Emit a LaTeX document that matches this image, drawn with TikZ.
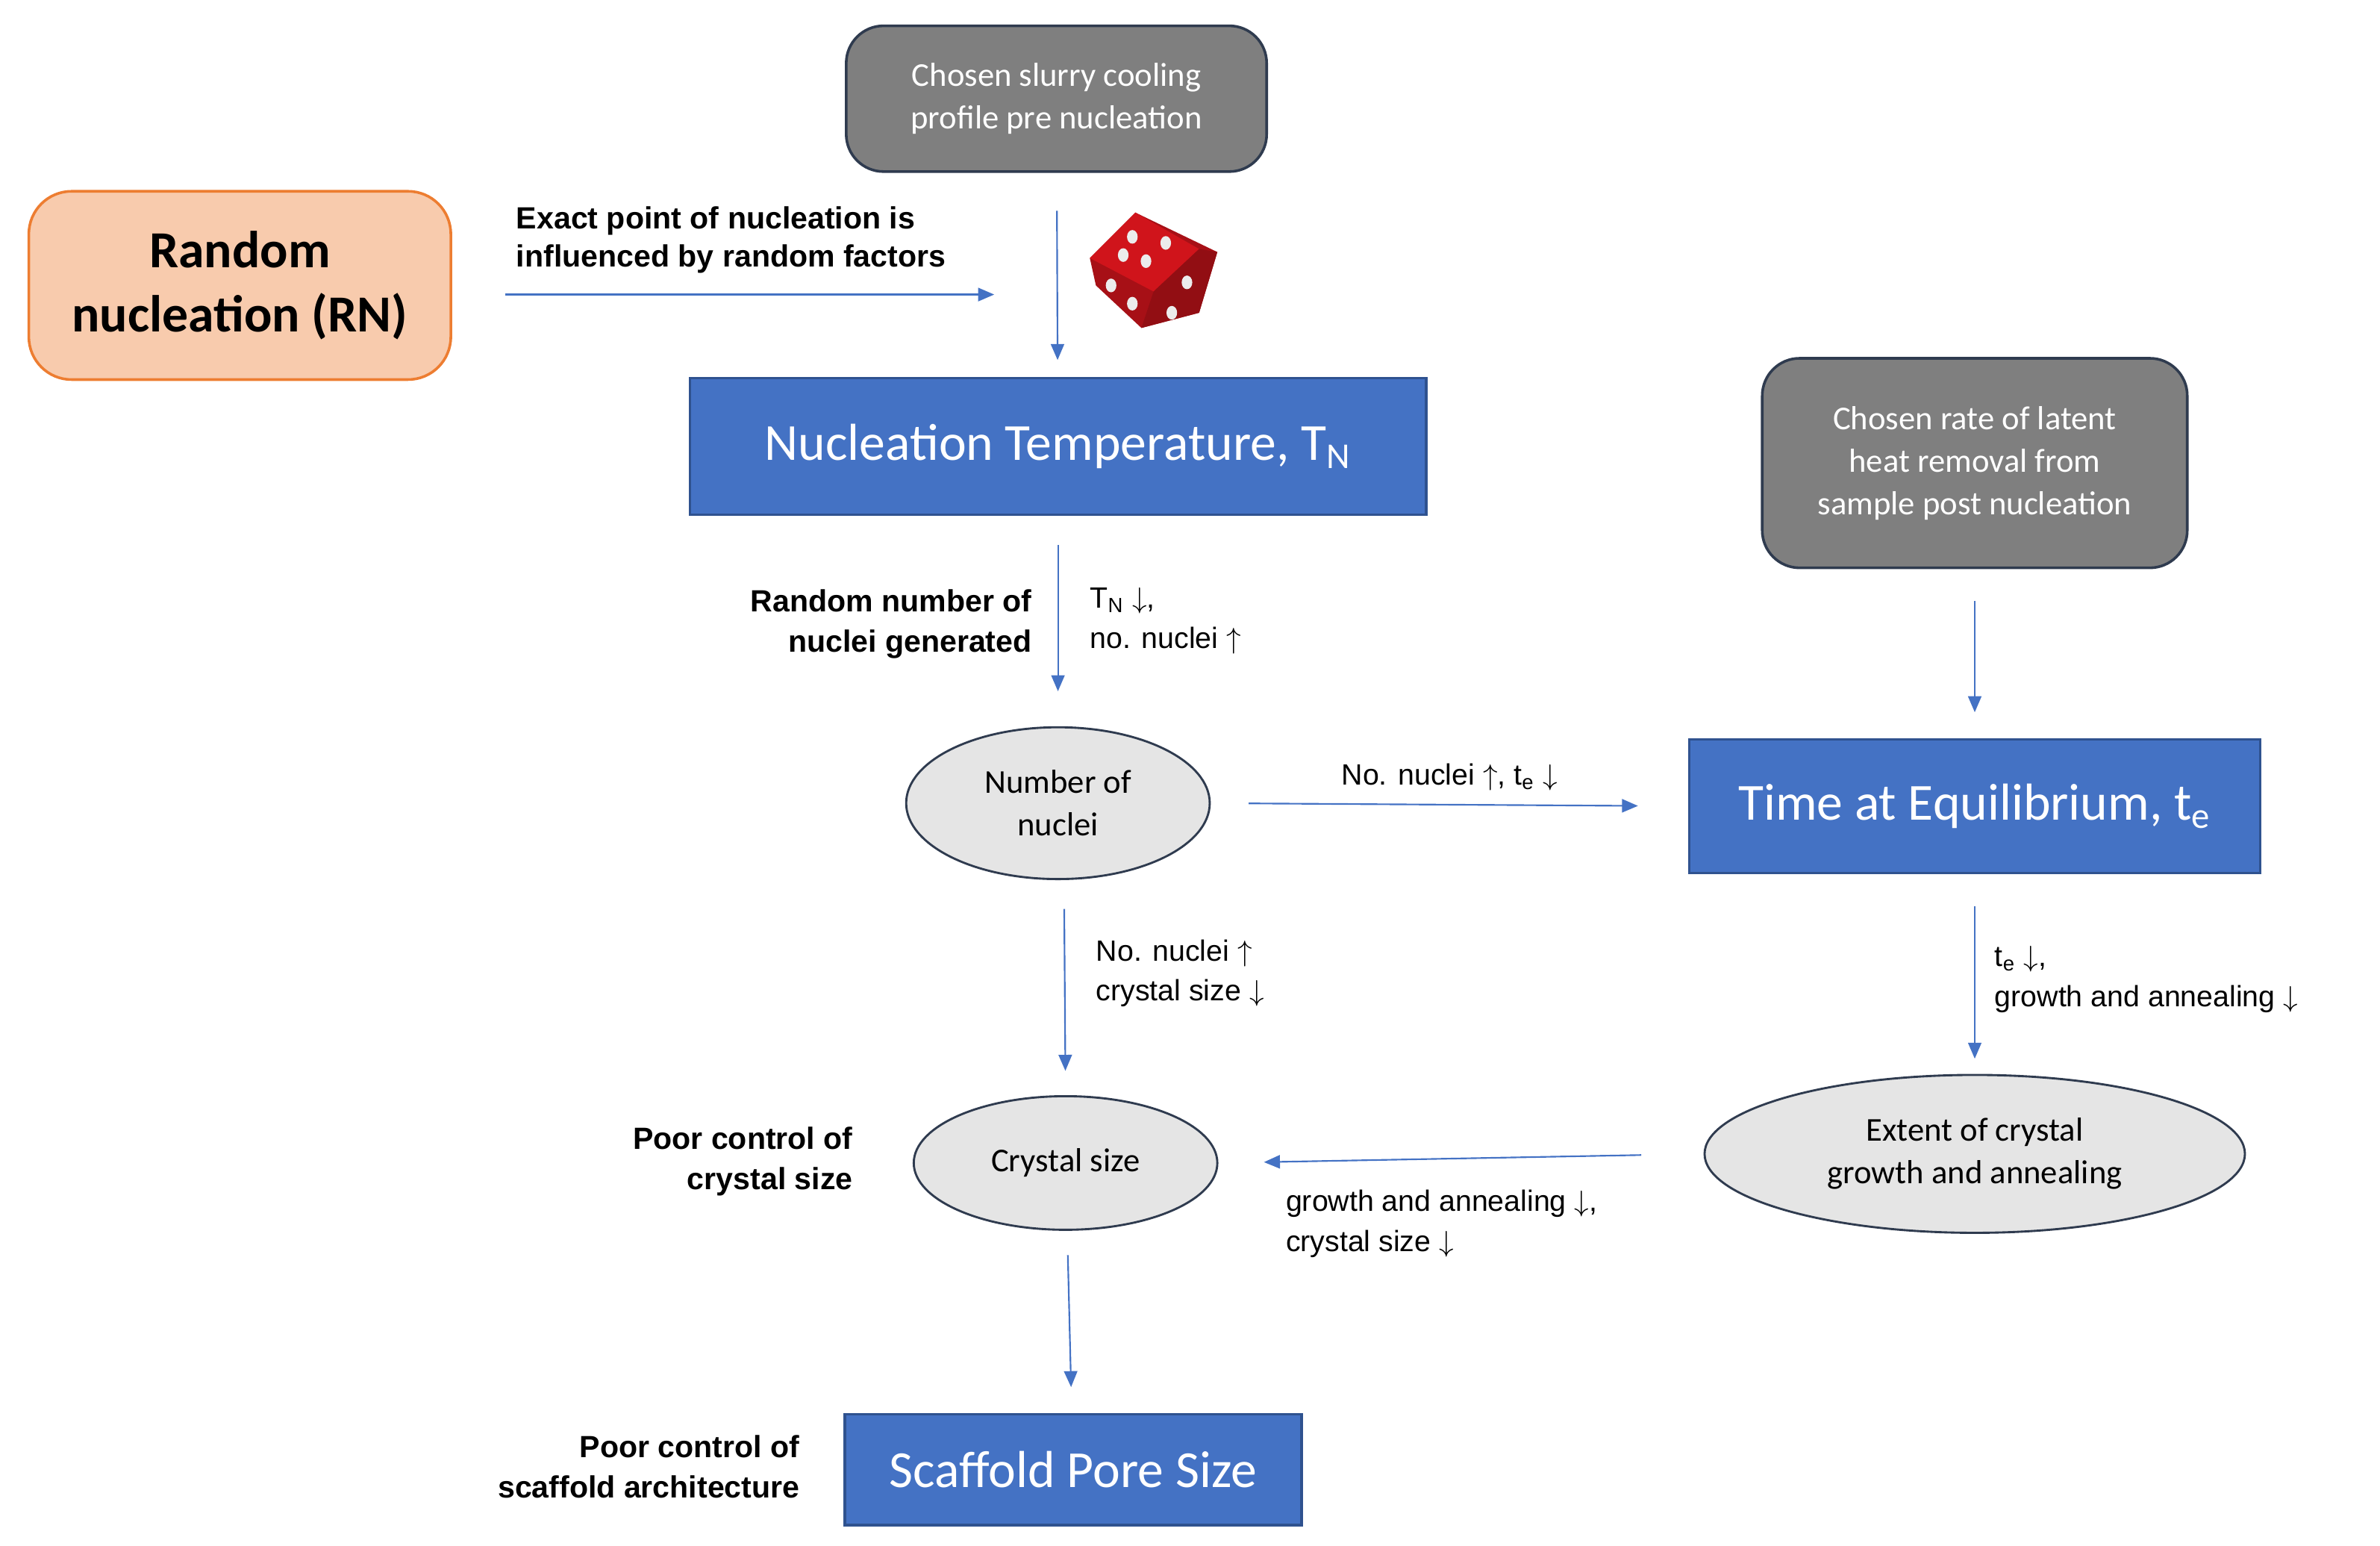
\documentclass[tikz,border=0pt]{standalone}
\usepackage{fontspec}
\setmainfont{Liberation Sans}
\newfontfamily\boxfont{Carlito}
\usetikzlibrary{arrows.meta,shapes.geometric}
\definecolor{boxblue}{HTML}{4472C4}
\definecolor{boxedge}{HTML}{2F528F}
\definecolor{greybox}{HTML}{7F7F7F}
\definecolor{greyedge}{HTML}{2F3B4F}
\definecolor{rnfill}{HTML}{F8CBAD}
\definecolor{rnedge}{HTML}{ED7D31}
\definecolor{dicered}{HTML}{D0141B}

\begin{document}
\begin{tikzpicture}[x=0.02cm,y=-0.02cm,
    flow/.style={-{Triangle[length=6pt,width=5pt]},boxblue,line width=0.6pt},
    grey/.style={draw=greyedge,line width=1pt,fill=greybox,rounded corners=14pt,
      text=white,align=center,font=\boxfont\fontsize{12.5}{16}\selectfont},
    blue/.style={draw=boxedge,line width=1pt,fill=boxblue,text=white,
      font=\boxfont\fontsize{19.5}{23}\selectfont},
    blob/.style={ellipse,draw=greyedge,line width=0.8pt,fill=gray!20,align=center,
      font=\boxfont\fontsize{12.5}{16}\selectfont},
    note/.style={font=\fontsize{11}{15}\selectfont,align=left,anchor=west},
    bnote/.style={font=\bfseries\fontsize{11.5}{15}\selectfont,align=right,anchor=east}]
  \useasboundingbox (0,0) rectangle (1568,1018);
  % boxes
  \node[grey,minimum width=277*0.02cm,minimum height=96*0.02cm] (slurry) at (696,65)
    {Chosen slurry cooling\\profile pre nucleation};
  \node[draw=rnedge,line width=1pt,fill=rnfill,rounded corners=16pt,align=center,
    minimum width=278*0.02cm,minimum height=124*0.02cm,
    font=\boxfont\bfseries\fontsize{19.5}{24}\selectfont] (rn) at (158,188)
    {Random\\nucleation (RN)};
  \node[blue,minimum width=485*0.02cm,minimum height=90*0.02cm] (tn) at (697,294)
    {Nucleation Temperature, T\textsubscript{N}};
  \node[grey,minimum width=280*0.02cm,minimum height=138*0.02cm] (latent) at (1301,305)
    {Chosen rate of latent\\heat removal from\\sample post nucleation};
  \node[blue,minimum width=376*0.02cm,minimum height=88*0.02cm] (te) at (1301,531)
    {Time at Equilibrium, t\textsubscript{e}};
  \node[blob,minimum width=200*0.02cm,minimum height=100*0.02cm] (nuclei) at (697,529)
    {Number of\\nuclei};
  \node[blob,minimum width=356*0.02cm,minimum height=104*0.02cm] (extent) at (1301,760)
    {Extent of crystal\\growth and annealing};
  \node[blob,minimum width=200*0.02cm,minimum height=88*0.02cm] (crystal) at (702,766)
    {Crystal size};
  \node[blue,minimum width=301*0.02cm,minimum height=73*0.02cm] (pore) at (707,968)
    {Scaffold Pore Size};
  % dice
  \begin{scope}[shift={(760,178)}]
    \fill[dicered!80!black] (-42,-8) -- (-12,-38) -- (42,-12) -- (30,28) -- (-8,38) -- (-38,10) -- cycle;
    \fill[dicered] (-42,-8) -- (-12,-38) -- (30,-14) -- (0,14) -- cycle;
    \fill[dicered!70!black] (0,14) -- (30,-14) -- (42,-12) -- (30,28) -- (-8,38) -- cycle;
    \foreach \p in {(-20,-10),(-5,-6),(8,-18),(-14,-22),(-28,10),(-14,22)}
      \fill[white!85!gray] \p ellipse (3.5 and 4.5);
    \foreach \p in {(22,8),(12,28)}
      \fill[white!85!gray] \p ellipse (3.5 and 4.5);
  \end{scope}
  % labels
  \node[font=\bfseries\fontsize{11.5}{14.5}\selectfont,align=left,anchor=west] (exact) at (334,158)
    {Exact point of nucleation is\\influenced by random factors};
  \node[bnote] (random) at (686,411) {Random number of\\nuclei generated};
  \node[note] (tnnote) at (712,409) {T\textsubscript{N} $\downarrow$,\\no. nuclei $\uparrow$};
  \node[note,anchor=center] (nonote) at (955,512) {No. nuclei $\uparrow$, t\textsubscript{e} $\downarrow$};
  \node[note] (nucnote) at (716,641) {No. nuclei $\uparrow$\\crystal size $\downarrow$};
  \node[note] (tenote) at (1308,645) {t\textsubscript{e} $\downarrow$,\\growth and annealing $\downarrow$};
  \node[note] (grnote) at (841,806) {growth and annealing $\downarrow$,\\crystal size $\downarrow$};
  \node[bnote] (poorc) at (568,765) {Poor control of\\crystal size};
  \node[bnote] (poors) at (533,966) {Poor control of\\scaffold architecture};
  % connectors
  \coordinate (rnend) at (655,194);
  \draw[flow] (333,194) -- (rnend);
  \draw[flow,shorten <=25*0.02cm,shorten >=11*0.02cm] (slurry) -- (tn);
  \draw[flow,shorten <=19*0.02cm,shorten >=23*0.02cm] (tn) -- (nuclei);
  \draw[flow,shorten <=25*0.02cm,shorten >=33*0.02cm] (nuclei.east) -- (te.west);
  \draw[flow,shorten <=21*0.02cm,shorten >=17*0.02cm] (latent) -- (te);
  \draw[flow,shorten <=21*0.02cm,shorten >=10*0.02cm] (te) -- (extent);
  \draw[flow,shorten <=41*0.02cm,shorten >=30*0.02cm] (extent.west) -- (crystal.east);
  \draw[flow,shorten <=19*0.02cm,shorten >=16*0.02cm] (nuclei.south) ++(4,0) coordinate (ns) (ns) -- (crystal.north);
  \draw[flow,shorten <=16*0.02cm,shorten >=17*0.02cm] (crystal) -- (pore);
\end{tikzpicture}
\end{document}
